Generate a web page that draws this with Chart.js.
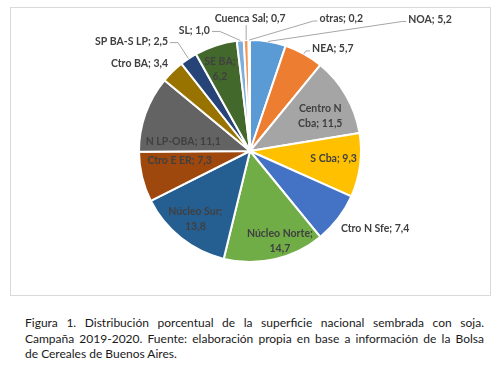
<!DOCTYPE html>
<html lang="es">
<head>
<meta charset="UTF-8">
<title>Superficie sembrada con soja</title>
<style>
  body { margin: 0; background: #fff; width: 503px; height: 367px; position: relative; overflow: hidden; }
  .frame { position: absolute; left: 10px; top: 7px; width: 481px; height: 289px; border: 1px solid #d9d9d9; box-sizing: border-box; }
  .chart-box { position: absolute; left: 0; top: 0; width: 503px; height: 300px; }
  .caption { position: absolute; left: 25px; top: 315px; width: 459px; font-family: Lato, "Open Sans", sans-serif; font-size: 12px; line-height: 15.5px; color: #1a1a1a; }
  .caption div { white-space: nowrap; }
  .caption .j { text-align: justify; text-align-last: justify; }
</style>
</head>
<body>
<div class="frame"></div>
<div class="chart-box"><canvas id="pie"></canvas></div>
<div class="caption">
  <div class="j">Figura 1. Distribución porcentual de la superficie nacional sembrada con soja.</div>
  <div class="j">Campaña 2019-2020. Fuente: elaboración propia en base a información de la Bolsa</div>
  <div>de Cereales de Buenos Aires.</div>
</div>

<script src="https://cdn.jsdelivr.net/npm/chart.js"></script>
<script>
// regiones y porcentaje de superficie sembrada
var regions = ['NOA', 'NEA', 'Centro N Cba', 'S Cba', 'Ctro N Sfe', 'Núcleo Norte', 'Núcleo Sur',
               'Ctro E ER', 'N LP-OBA', 'Ctro BA', 'SP BA-S LP', 'SE BA', 'SL', 'Cuenca Sal', 'otras'];
var shares = [5.2, 5.7, 11.5, 9.3, 7.4, 14.7, 13.8, 7.3, 11.1, 3.4, 2.5, 6.2, 1.0, 0.7, 0.2];
var sliceColors = ['#5B9BD5', '#ED7D31', '#A5A5A5', '#FFC000', '#4472C4', '#70AD47', '#255E91',
                   '#9E480E', '#636363', '#997300', '#264478', '#43682B', '#7CAFDD', '#F1975A', '#B7B7B7'];

// label placement: [radius fraction, dx, dy, wrap after n words (0 = one line), leader line]
var labelSpots = [
    [1.0, 162, -22, 0, true],   // NOA
    [1.0, 29, -5, 0, true],     // NEA
    [0.70, 3, 4, 2, false],     // Centro N Cba
    [0.76, 0, -3, 0, false],    // S Cba
    [1.0, 37, 10, 0, false],    // Ctro N Sfe
    [0.85, 9, -2, 2, false],    // Nucleo Norte
    [0.79, 0, 0, 2, false],     // Nucleo Sur
    [0.68, 3, -8, 0, false],    // Ctro E ER
    [0.61, -3, 13, 0, false],   // N LP-OBA
    [1.0, -33, -8, 0, false],   // Ctro BA
    [1.0, -57, -17, 0, true],   // SP BA-S LP
    [0.79, -3, 2, 2, false],    // SE BA
    [1.0, -46, -10, 0, true],   // SL
    [1.0, 4, -21, 0, true],     // Cuenca Sal
    [1.0, 92, -21, 0, true]     // otras
];

var labelFont = 'bold 10.5px Lato, "Open Sans", sans-serif';
var lineH = 15;

var sliceLabels = {
    id: 'sliceLabels',
    afterDatasetsDraw: function(chart) {
        var ctx = chart.ctx;
        var arcs = chart.getDatasetMeta(0).data;
        ctx.save();
        ctx.font = labelFont;
        ctx.textAlign = 'center';
        ctx.textBaseline = 'middle';
        arcs.forEach(function(arc, i) {
            var spot = labelSpots[i];
            var mid = (arc.startAngle + arc.endAngle) / 2;
            var r = arc.outerRadius;
            var ex = arc.x + Math.cos(mid) * r;
            var ey = arc.y + Math.sin(mid) * r;
            var lx = arc.x + Math.cos(mid) * r * spot[0] + spot[1];
            var ly = arc.y + Math.sin(mid) * r * spot[0] + spot[2];
            var text = regions[i] + '; ' + shares[i].toFixed(1).replace('.', ',');
            var lines = [text];
            if (spot[3] > 0) {
                var words = text.split(' ');
                lines = [words.slice(0, spot[3]).join(' '), words.slice(spot[3]).join(' ')];
            }
            if (spot[4]) {
                var w = ctx.measureText(text).width;
                ctx.strokeStyle = '#a6a6a6';
                ctx.lineWidth = 1;
                ctx.beginPath();
                ctx.moveTo(ex, ey);
                if (Math.abs(lx - ex) < w / 2) {
                    ctx.lineTo(ex, ly + 6);
                } else if (lx > ex) {
                    ctx.lineTo(lx - w / 2 - 6, ly + 2);
                    ctx.lineTo(lx - w / 2 - 2, ly + 2);
                } else {
                    ctx.lineTo(lx + w / 2 + 10, ly + 1);
                    ctx.lineTo(lx + w / 2 + 2, ly + 1);
                }
                ctx.stroke();
            }
            ctx.fillStyle = '#404040';
            var y0 = ly - (lines.length - 1) * lineH / 2;
            lines.forEach(function(line, k) {
                ctx.fillText(line, lx, y0 + k * lineH);
            });
        });
        ctx.restore();
    }
};

var chart = new Chart(document.getElementById('pie'), {
    type: 'pie',
    data: {
        labels: regions,
        datasets: [{
            data: shares,
            backgroundColor: sliceColors,
            borderColor: '#ffffff',
            borderWidth: 2
        }]
    },
    options: {
        responsive: true,
        maintainAspectRatio: false,
        animation: false,
        radius: 111,
        layout: { padding: { left: 0, right: 3, top: 40, bottom: 38 } },
        plugins: {
            legend: { display: false },
            tooltip: { enabled: false }
        }
    },
    plugins: [sliceLabels]
});
</script>
</body>
</html>
